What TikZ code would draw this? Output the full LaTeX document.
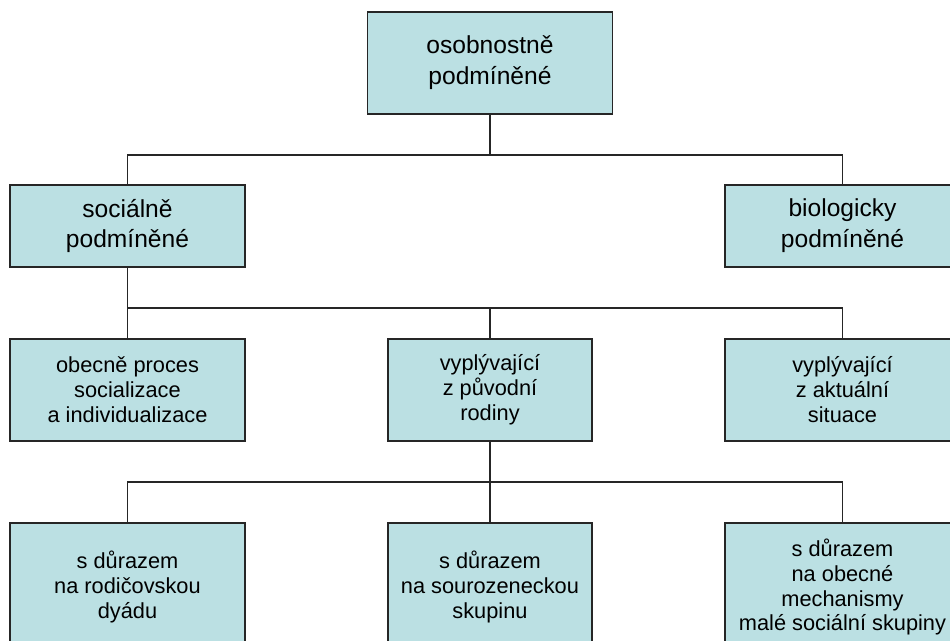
\documentclass[tikz,border=0pt]{standalone}
\usepackage{fontspec}
\setmainfont{Liberation Sans}
\usepackage{tikz}
\usetikzlibrary{positioning, calc}
\definecolor{boxfill}{HTML}{BBE0E3}

\begin{document}
\begin{tikzpicture}[x=0.02cm, y=-0.02cm,
    box/.style={draw=black!85, fill=boxfill, line width=0.8pt, align=center, inner sep=0pt},
    bigbox/.style={box, font=\fontsize{14}{17.6}\selectfont},
    smallbox/.style={box, font=\fontsize{12.4}{14.2}\selectfont},
    link/.style={draw=black!85, line width=0.7pt}]
        \path[use as bounding box] (0,0) rectangle (950,640);
        \clip (0,0) rectangle (950,640);
        % Top box
        \node[bigbox, minimum width=4.9cm, minimum height=2.04cm] (top) at (490,63) {osobnostně\\podmíněné};
        % Second row
        \node[bigbox, minimum width=4.7cm, minimum height=1.64cm] (soc) at (127.5,226) {sociálně\\podmíněné};
        \node[bigbox, minimum width=4.7cm, minimum height=1.64cm] (bio) at (842.5,226) {biologicky\\podmíněné};
        % Third row
        \node[smallbox, minimum width=4.7cm, minimum height=2.04cm] (gen) at (127.5,390) {obecně proces\\socializace\\a individualizace};
        \node[smallbox, minimum width=4.08cm, minimum height=2.04cm] (fam) at (490,390) {vyplývající\\z původní\\rodiny};
        \node[smallbox, minimum width=4.7cm, minimum height=2.04cm] (sit) at (842.5,390) {vyplývající\\z aktuální\\situace};
        % Fourth row
        \node[smallbox, minimum width=4.7cm, minimum height=2.56cm] (dya) at (127.5,587) {s důrazem\\na rodičovskou\\dyádu};
        \node[smallbox, minimum width=4.08cm, minimum height=2.56cm] (sib) at (490,587) {s důrazem\\na sourozeneckou\\skupinu};
        \node[smallbox, minimum width=4.7cm, minimum height=2.56cm] (grp) at (842.5,587) {s důrazem\\na obecné\\mechanismy\\malé sociální skupiny};
        % Connectors
        \coordinate (bar1) at (0,155);
        \coordinate (bar2) at (0,308);
        \coordinate (bar3) at (0,482);
        \draw[link] (top.south) -- (top.south |- bar1);
        \draw[link] (soc.north) -- (soc.north |- bar1) -- (bio.north |- bar1) -- (bio.north);
        \draw[link] (soc.south) -- (soc.south |- bar2) -- (sit.north |- bar2) -- (sit.north);
        \draw[link] (gen.north) -- (gen.north |- bar2);
        \draw[link] (fam.north) -- (fam.north |- bar2);
        \draw[link] (dya.north) -- (dya.north |- bar3) -- (grp.north |- bar3) -- (grp.north);
        \draw[link] (fam.south) -- (sib.north);
    \end{tikzpicture}
\end{document}
